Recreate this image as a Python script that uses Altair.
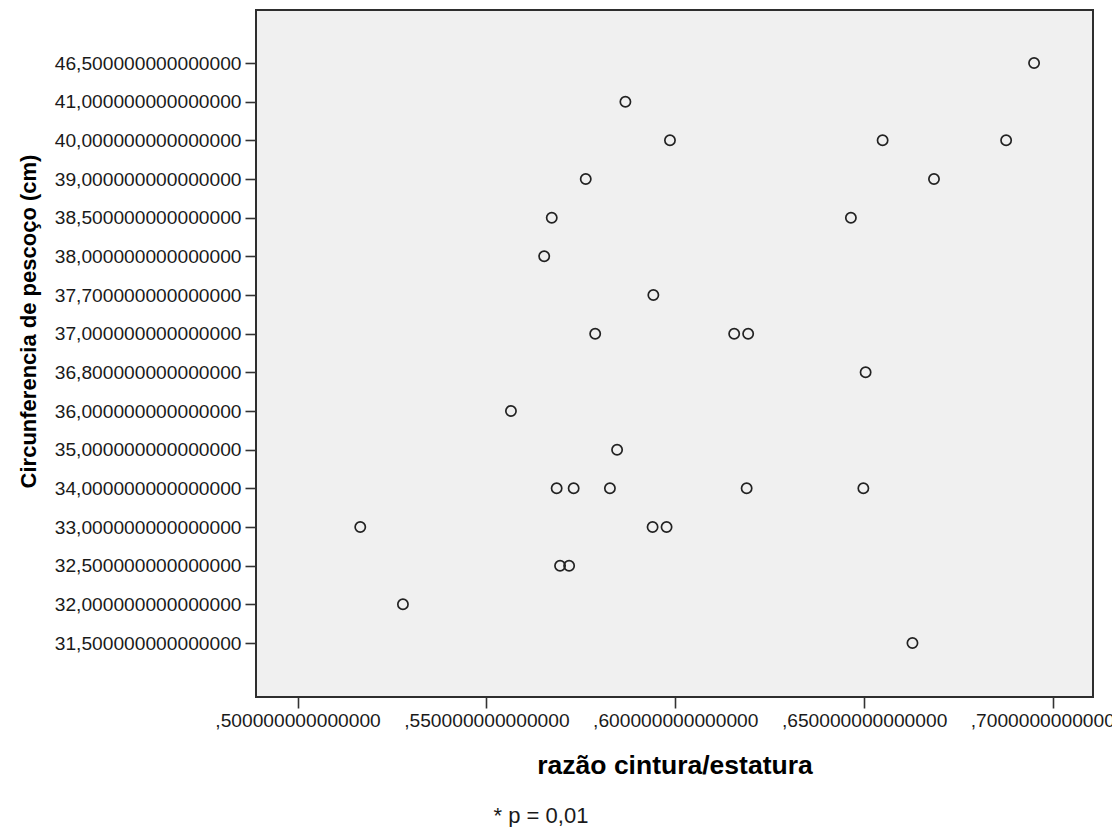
import altair as alt
import pandas as pd

# Data
razao = [0.6950, 0.5868, 0.5986, 0.6549, 0.6876, 0.5763, 0.6685, 0.5673, 0.6465,
         0.5653, 0.5942, 0.5788, 0.6156, 0.6193, 0.6504, 0.5565, 0.5846, 0.5686,
         0.5731, 0.5827, 0.6189, 0.6498, 0.5166, 0.5940, 0.5977, 0.5695, 0.5719,
         0.5279, 0.6628]
pescoco = [46.5, 41.0, 40.0, 40.0, 40.0, 39.0, 39.0, 38.5, 38.5,
           38.0, 37.7, 37.0, 37.0, 37.0, 36.8, 36.0, 35.0, 34.0,
           34.0, 34.0, 34.0, 34.0, 33.0, 33.0, 33.0, 32.5, 32.5,
           32.0, 31.5]
categorias = [46.5, 41.0, 40.0, 39.0, 38.5, 38.0, 37.7, 37.0, 36.8, 36.0,
              35.0, 34.0, 33.0, 32.5, 32.0, 31.5]
x_ticks = [0.50, 0.55, 0.60, 0.65, 0.70]
nota = "* p = 0,01"


def fmt(v):
    return (f"{v:.6f}" + "000000000").replace(".", ",")


cat_labels = [fmt(v) for v in categorias]
df = pd.DataFrame({"razao": razao, "pescoco": [fmt(v) for v in pescoco]})

FONT = "Liberation Sans"

points = alt.Chart(df).mark_point(
    filled=False, size=105, stroke="#222222", strokeWidth=1.7, opacity=1
).encode(
    x=alt.X(
        "razao:Q",
        scale=alt.Scale(domain=[0.489, 0.7106], nice=False, zero=False),
        axis=alt.Axis(
            values=x_ticks,
            labelExpr="replace(format(datum.value, '.15f'), '0.', ',')",
            title="razão cintura/estatura",
            titleFont=FONT, titleFontSize=26.5, titleFontWeight="bold", titleColor="#000",
            titleBaseline="alphabetic", titleY=76,
            labelFont=FONT, labelFontSize=19.2, labelColor="#1a1a1a",
            tickSize=11, tickWidth=1.6, tickColor="#333", labelPadding=3,
            domain=False, grid=False, labelOverlap=False, labelFlush=False,
            labelLimit=0,
        ),
    ),
    y=alt.Y(
        "pescoco:N",
        scale=alt.Scale(domain=cat_labels, range=[53, 633], padding=0),
        sort=cat_labels,
        axis=alt.Axis(
            title="Circunferencia de pescoço (cm)",
            titleFont=FONT, titleFontSize=22, titleFontWeight="bold", titleColor="#000",
            titleAngle=270, titleAlign="center", titleBaseline="alphabetic",
            titleX=-221, titleY=311,
            labelFont=FONT, labelFontSize=19.2, labelColor="#1a1a1a",
            tickSize=11, tickWidth=1.6, tickColor="#333", labelPadding=4,
            domain=False, grid=False, labelOverlap=False, labelLimit=0,
        ),
    ),
)

note = alt.Chart(pd.DataFrame({"t": [nota]})).mark_text(
    font=FONT, fontSize=22, color="#1a1a1a", align="center", baseline="middle"
).encode(
    text="t:N",
    x=alt.value(285),
    y=alt.value(806),
)

chart = alt.layer(points, note).properties(
    width=837,
    height=687,
    padding={"left": 248, "top": 2, "right": 19, "bottom": 130},
    autosize=alt.AutoSizeParams(type="none"),
    background="white",
).configure_view(
    fill="#f0f0f0", stroke="#2e2e2e", strokeWidth=2
)

chart.save("out.html", embed_options={"renderer": "svg", "actions": False})
